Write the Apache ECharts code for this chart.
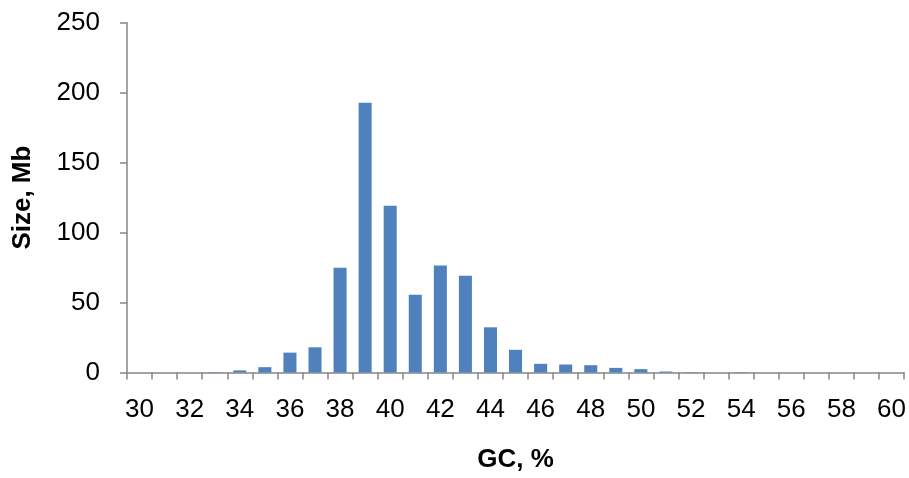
<!DOCTYPE html>
<html>
<head>
<meta charset="utf-8">
<script src="https://cdn.jsdelivr.net/npm/echarts@6/dist/echarts.min.js"></script>
<style>
html,body{margin:0;padding:0;background:#fff;}
#c{width:909px;height:478px;}
</style>
</head>
<body>
<div id="c"></div>
<script>
var categories = ['30','31','32','33','34','35','36','37','38','39','40','41','42','43','44','45','46','47','48','49','50','51','52','53','54','55','56','57','58','59','60'];
var sizeMb = [0, 0, 0, 0.3, 1.5, 3.8, 14.2, 18, 74.8, 192.7, 119.2, 55.5, 76.4, 69.1, 32.3, 16.2, 6.2, 5.7, 5.2, 3.3, 2.4, 0.7, 0.3, 0, 0.3, 0, 0, 0, 0, 0, 0];
var yMin = 0, yMax = 250, yStep = 50;

var chart = echarts.init(document.getElementById('c'), null, {renderer:'canvas'});
var axisColor = '#868686';
var font = 'Liberation Sans, Arial, sans-serif';
chart.setOption({
  animation: false,
  backgroundColor: '#ffffff',
  grid: {left: 127, right: 4, top: 22.7, bottom: 104.5, containLabel: false},
  xAxis: {
    type: 'category',
    data: categories,
    boundaryGap: true,
    name: 'GC, %',
    nameLocation: 'middle',
    nameGap: 74.5,
    nameTextStyle: {fontFamily: font, fontSize: 26, fontWeight: 'bold', color: '#000'},
    axisLine: {lineStyle: {color: axisColor, width: 1.5}},
    axisTick: {show: true, interval: 0, length: 7, lineStyle: {color: axisColor, width: 1.5}},
    axisLabel: {interval: 1, margin: 24, fontFamily: font, fontSize: 26, color: '#000'},
    splitLine: {show: false}
  },
  yAxis: {
    type: 'value',
    min: yMin, max: yMax, interval: yStep,
    name: 'Size, Mb',
    nameLocation: 'middle',
    nameGap: 91,
    nameRotate: 90,
    nameTextStyle: {fontFamily: font, fontSize: 26, fontWeight: 'bold', color: '#000'},
    axisLine: {show: true, lineStyle: {color: axisColor, width: 1.5}},
    axisTick: {show: true, length: 7, lineStyle: {color: axisColor, width: 1.5}},
    axisLabel: {margin: 27, fontFamily: font, fontSize: 26, color: '#000'},
    splitLine: {show: false}
  },
  series: [{
    type: 'bar',
    data: sizeMb,
    barWidth: '52%',
    itemStyle: {color: '#4F81BD'}
  }]
});
</script>
</body>
</html>
